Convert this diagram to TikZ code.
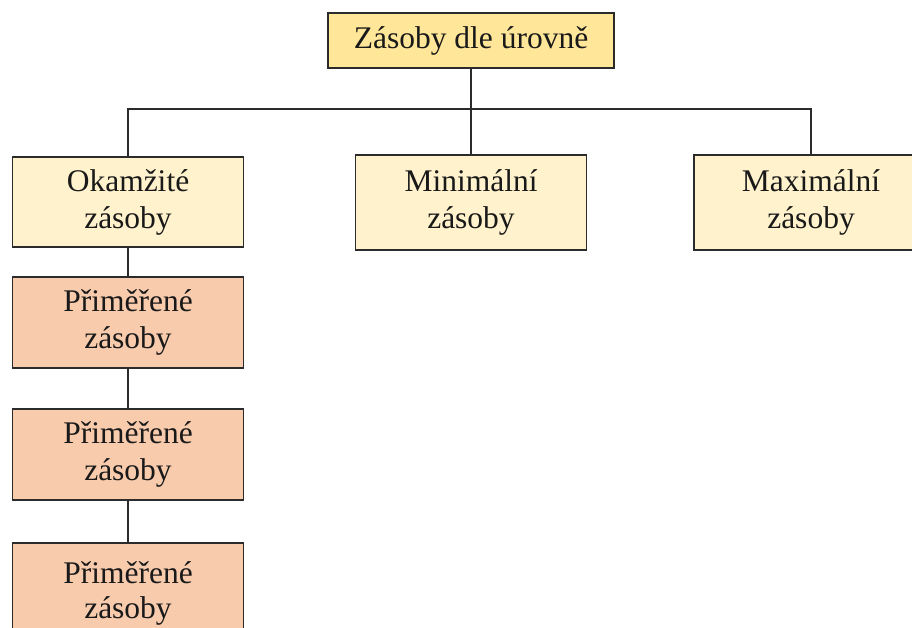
\documentclass[tikz,border=0pt]{standalone}
\usepackage{fontspec}
\setmainfont{Liberation Serif}
\definecolor{topfill}{HTML}{FFE699}
\definecolor{lvlfill}{HTML}{FFF2CC}
\definecolor{subfill}{HTML}{F8CBAD}
\definecolor{edge}{HTML}{2B2B2B}
\tikzset{
  boxbase/.style={draw=edge, line width=1.3pt, align=center, inner sep=0pt,
    font=\fontsize{31.5}{37}\selectfont, text=black!90},
  topbox/.style={boxbase, fill=topfill, minimum width=286pt, minimum height=55pt},
  lvlbox/.style={boxbase, fill=lvlfill, minimum width=231pt, minimum height=95pt},
  subbox/.style={boxbase, fill=subfill, minimum width=231pt, minimum height=91pt},
  conn/.style={draw=edge, line width=1.3pt}
}
\begin{document}
\begin{tikzpicture}[x=1pt,y=-1pt]
\useasboundingbox (0,0) rectangle (912,628);
\clip (0,0) rectangle (912,628);
\fill[white] (0,0) rectangle (912,628);
\node[topbox] (top) at (471,40.5) {Zásoby dle úrovně};
\node[lvlbox, minimum height=90pt] (ok) at (128,202) {Okamžité\\zásoby};
\node[lvlbox] (min) at (471,202.5) {Minimální\\zásoby};
\node[lvlbox, minimum width=234pt] (max) at (811,202.5) {Maximální\\zásoby};
\node[subbox] (p1) at (128,322.5) {Přiměřené\\zásoby};
\node[subbox] (p2) at (128,454.5) {Přiměřené\\zásoby};
\node[subbox, minimum height=100pt] (p3) at (128,593) {Přiměřené\\[-2pt]zásoby};
\coordinate (bus) at (471,109);
\draw[conn] (top.south) -- (bus);
\draw[conn] (ok.north) |- (bus) -| (max.north);
\draw[conn] (bus) -- (min.north);
\draw[conn] (ok.south) -- (p1.north);
\draw[conn] (p1.south) -- (p2.north);
\draw[conn] (p2.south) -- (p3.north);
\end{tikzpicture}
\end{document}
